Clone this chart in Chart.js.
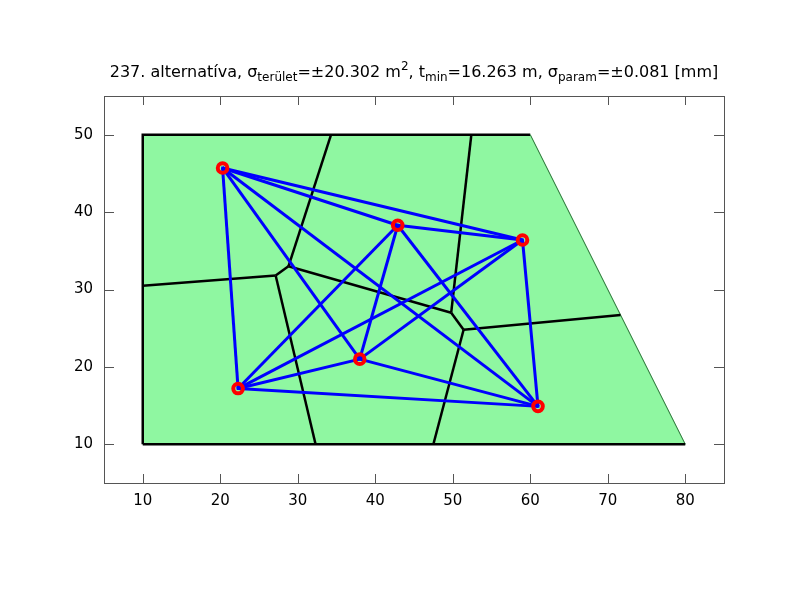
<!DOCTYPE html>
<html>
<head>
<meta charset="utf-8">
<script src="https://cdn.jsdelivr.net/npm/chart.js@4/dist/chart.umd.min.js"></script>
<style>
  body { margin: 0; background: #fff; }
</style>
</head>
<body>
<canvas id="c" width="800" height="600"></canvas>
<script>
// boundary polygon (last point closes it)
const boundX = [10, 10, 60, 80, 10];
const boundY = [10, 50, 50, 10, 10];

// measurement sites
const siteX = [20.3, 42.9, 59.0, 38.0, 22.3, 61.0];
const siteY = [45.7, 38.3, 36.4, 21.0, 17.2, 14.9];

// links between sites (index pairs)
const links = [
  [0, 1], [0, 2], [0, 3], [0, 4], [0, 5],
  [1, 2], [1, 3], [1, 4], [1, 5],
  [2, 3], [2, 4], [2, 5],
  [3, 4], [3, 5], [4, 5]
];

// voronoi cell edges: x1, y1, x2, y2
const cellX1 = [34.3, 28.8, 27.15, 27.15, 28.8, 52.4, 49.8, 51.4, 51.4];
const cellY1 = [50.0, 33.0, 31.8, 31.8, 33.0, 50.0, 27.0, 24.8, 24.8];
const cellX2 = [28.8, 27.15, 10.0, 32.3, 49.8, 49.8, 51.4, 71.65, 47.5];
const cellY2 = [33.0, 31.8, 30.5, 10.0, 27.0, 27.0, 24.8, 26.7, 10.0];

const xTicks = [10, 20, 30, 40, 50, 60, 70, 80];
const yTicks = [10, 20, 30, 40, 50];

const areaColor = 'rgb(143,247,161)';
const datasets = [];

// area fill only (open path, filled down to the bottom edge y=10)
datasets.push({
  data: boundX.slice(0, 4).map((x, i) => ({ x: x, y: boundY[i] })),
  showLine: true,
  fill: { value: 10 },
  backgroundColor: areaColor,
  borderColor: areaColor,
  borderWidth: 1,
  pointRadius: 0,
  order: 11
});
// outline
datasets.push({
  data: boundX.map((x, i) => ({ x: x, y: boundY[i] })),
  showLine: true,
  fill: false,
  borderColor: '#000',
  borderWidth: 2.5,
  pointRadius: 0,
  segment: {
    borderColor: ctx => ctx.p0DataIndex === 2 ? '#2f6f3a' : '#000',
    borderWidth: ctx => ctx.p0DataIndex === 2 ? 1 : 2.5
  },
  order: 10
});

for (let i = 0; i < cellX1.length; i++) {
  datasets.push({
    data: [{ x: cellX1[i], y: cellY1[i] }, { x: cellX2[i], y: cellY2[i] }],
    showLine: true,
    borderColor: '#000',
    borderWidth: 2.5,
    pointRadius: 0,
    order: 9
  });
}

links.forEach(([a, b]) => {
  datasets.push({
    data: [{ x: siteX[a], y: siteY[a] }, { x: siteX[b], y: siteY[b] }],
    showLine: true,
    borderColor: '#0000ff',
    borderWidth: 3,
    pointRadius: 0,
    order: 8
  });
});

datasets.push({
  data: siteX.map((x, i) => ({ x: x, y: siteY[i] })),
  showLine: false,
  pointRadius: 4.8,
  pointBorderWidth: 4,
  pointBorderColor: '#ff0000',
  pointBackgroundColor: 'rgba(0,0,0,0)',
  order: 2
});
datasets.push({
  data: siteX.map((x, i) => ({ x: x, y: siteY[i] })),
  showLine: false,
  pointStyle: 'rect',
  pointRadius: 2,
  pointBorderWidth: 0,
  pointBackgroundColor: '#0000ff',
  order: 1
});

// title with sub/superscripts
const titleParts = [
  ['237. alternatíva, σ', 0],
  ['terület', 1],
  ['=±20.302 m', 0],
  ['2', -1],
  [', t', 0],
  ['min', 1],
  ['=16.263 m, σ', 0],
  ['param', 1],
  ['=±0.081 [mm]', 0]
];

const framePlugin = {
  id: 'frame',
  afterDraw(chart) {
    const ctx = chart.ctx;
    const a = chart.chartArea;
    const sx = chart.scales.x, sy = chart.scales.y;
    ctx.save();
    ctx.strokeStyle = '#555';
    ctx.lineWidth = 1;
    ctx.strokeRect(a.left + 0.5, a.top + 0.5, a.right - a.left, a.bottom - a.top);
    ctx.beginPath();
    xTicks.forEach(v => {
      const px = Math.round(sx.getPixelForValue(v)) + 0.5;
      ctx.moveTo(px, a.bottom); ctx.lineTo(px, a.bottom - 9);
      ctx.moveTo(px, a.top); ctx.lineTo(px, a.top + 9);
    });
    yTicks.forEach(v => {
      const py = Math.round(sy.getPixelForValue(v)) + 0.5;
      ctx.moveTo(a.left, py); ctx.lineTo(a.left + 10, py);
      ctx.moveTo(a.right, py); ctx.lineTo(a.right - 10, py);
    });
    ctx.stroke();

    // title
    const big = '16px "DejaVu Sans"', small = '12px "DejaVu Sans"';
    let total = 0;
    titleParts.forEach(([t, k]) => {
      ctx.font = k === 0 ? big : small;
      total += ctx.measureText(t).width;
    });
    let x = (a.left + a.right) / 2 - total / 2;
    const base = 77;
    ctx.fillStyle = '#000';
    ctx.textBaseline = 'alphabetic';
    ctx.textAlign = 'left';
    titleParts.forEach(([t, k]) => {
      ctx.font = k === 0 ? big : small;
      const dy = k === 1 ? 4 : (k === -1 ? -7 : 0);
      ctx.fillText(t, x, base + dy);
      x += ctx.measureText(t).width;
    });
    ctx.restore();
  }
};

new Chart(document.getElementById('c'), {
  type: 'scatter',
  data: { datasets: datasets },
  options: {
    responsive: false,
    animation: false,
    layout: { padding: { left: 0, top: 96, right: 76, bottom: 77 } },
    plugins: { legend: { display: false }, tooltip: { enabled: false }, title: { display: false } },
    scales: {
      x: {
        type: 'linear', min: 5, max: 85,
        grid: { display: false, drawTicks: false },
        border: { display: false },
        afterBuildTicks: s => { s.ticks = xTicks.map(v => ({ value: v })); },
        afterFit: s => { s.height = 40; },
        ticks: { color: '#000', font: { family: 'DejaVu Sans', size: 15 }, padding: 9, maxRotation: 0, autoSkip: false }
      },
      y: {
        type: 'linear', min: 5, max: 55,
        grid: { display: false, drawTicks: false },
        border: { display: false },
        afterBuildTicks: s => { s.ticks = yTicks.map(v => ({ value: v })); },
        afterFit: s => { s.width = 104; },
        ticks: { color: '#000', font: { family: 'DejaVu Sans', size: 15 }, padding: 11, autoSkip: false }
      }
    }
  },
  plugins: [framePlugin]
});
</script>
</body>
</html>
